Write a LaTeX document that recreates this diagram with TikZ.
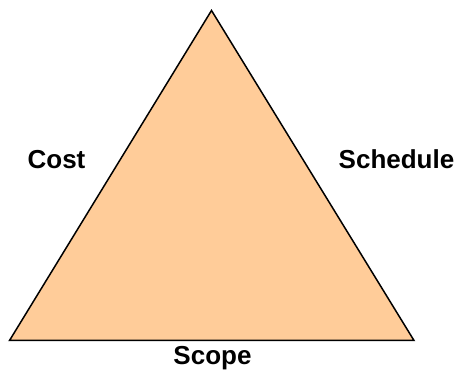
\documentclass[tikz,border=0pt]{standalone}
\usepackage{fontspec}
\setmainfont{Liberation Sans}
\usepackage{tikz}
\definecolor{peach}{HTML}{FFCC99}
\tikzset{side label/.style={font=\bfseries\fontsize{26}{30}\selectfont, anchor=base, inner sep=0pt}}

\begin{document}
\begin{tikzpicture}[x=1pt,y=1pt]
\useasboundingbox (0,0) rectangle (458,371);
\coordinate (apex) at (211.5,360.5);
\coordinate (left) at (9.5,30.5);
\coordinate (right) at (414,30.5);

\draw[fill=peach, line width=1.5pt] (left) -- (apex) -- (right) -- cycle;

\node[side label] (cost) at (56.5,202) {Cost};
\node[side label] (schedule) at (396.5,202) {Schedule};
\node[side label] (scope) at (212.5,6.5) {Scope};

\end{tikzpicture}
\end{document}
